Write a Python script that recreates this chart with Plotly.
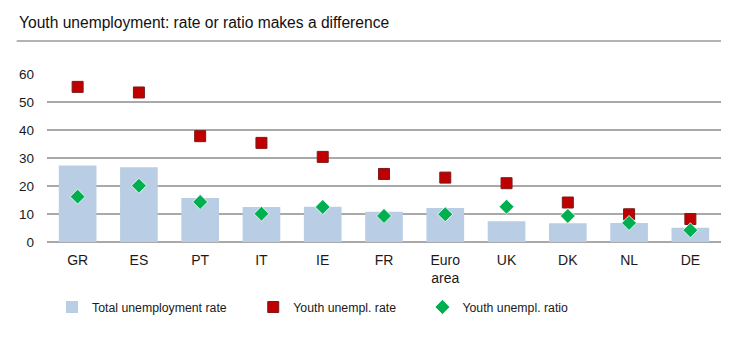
import plotly.graph_objects as go

# Country codes along the x axis
countries = ["GR", "ES", "PT", "IT", "IE", "FR", "Euro<br>area", "UK", "DK", "NL", "DE"]

# Unemployment figures, %
total_rate = [27.3, 26.7, 15.7, 12.5, 12.6, 10.8, 12.1, 7.4, 6.7, 6.8, 5.1]
youth_rate = [55.4, 53.4, 37.8, 35.4, 30.4, 24.3, 23.0, 21.0, 14.1, 9.9, 8.2]
youth_ratio = [16.2, 20.1, 14.3, 10.1, 12.5, 9.3, 9.9, 12.6, 9.3, 6.8, 4.2]

y_ticks = [0, 10, 20, 30, 40, 50, 60]

FONT = "Liberation Sans, Arial, sans-serif"
TXT = "#1a1a1a"

fig = go.Figure()
fig.add_trace(go.Bar(
    x=countries, y=total_rate, name="Total unemployment rate",
    marker=dict(color="#b9cde5", line=dict(width=0)),
    legend="legend",
))
fig.add_trace(go.Scatter(
    x=countries, y=youth_rate, name="Youth unempl. rate", mode="markers",
    marker=dict(symbol="square", size=11, color="#c00000",
                line=dict(color="#7a1a1a", width=1)),
    legend="legend2",
))
fig.add_trace(go.Scatter(
    x=countries, y=youth_ratio, name="Youth unempl. ratio", mode="markers",
    marker=dict(symbol="diamond", size=11.5, color="#00b050",
                line=dict(color="#ffffff", width=0.8)),
    legend="legend3",
))

legend_common = dict(
    orientation="h", yanchor="middle", y=-0.387, xanchor="left",
    font=dict(family=FONT, size=12.3, color=TXT),
    bgcolor="rgba(0,0,0,0)", itemwidth=30,
)

# Heading rule sits 33 px above the plot area (plot height is 168 px)
rule_y = 1 + 33 / 168

fig.update_layout(
    width=754, height=342,
    margin=dict(l=47, r=33, t=74, b=100, autoexpand=False),
    paper_bgcolor="white", plot_bgcolor="white",
    font=dict(family=FONT, size=13, color=TXT),
    bargap=0.385,
    showlegend=True,
    legend=dict(x=0.0074, **legend_common),
    legend2=dict(x=0.306, **legend_common),
    legend3=dict(x=0.557, **legend_common),
    xaxis=dict(
        range=[-0.5, len(countries) - 0.5],
        showgrid=False, showline=False, ticks="", automargin=False,
        ticklabelstandoff=8,
        tickfont=dict(family=FONT, size=14, color=TXT),
        fixedrange=True,
    ),
    yaxis=dict(
        range=[0, 60], tickvals=y_ticks, ticktext=[str(v) for v in y_ticks],
        showgrid=True, gridcolor="#a9a9a9", gridwidth=1.5,
        zeroline=True, zerolinecolor="#a9a9a9", zerolinewidth=1.5,
        showline=False, ticks="", ticklabelstandoff=12, automargin=False,
        tickfont=dict(family=FONT, size=13.5, color=TXT),
        fixedrange=True,
    ),
    annotations=[dict(
        text="Youth unemployment: rate or ratio makes a difference",
        xref="paper", yref="paper", x=-0.045, y=1.0, yshift=52,
        xanchor="left", yanchor="middle", showarrow=False,
        font=dict(family=FONT, size=15.6, color="#111111"),
    )],
    shapes=[dict(
        type="line", xref="paper", yref="paper",
        x0=-0.045, x1=1.0, y0=rule_y, y1=rule_y,
        line=dict(color="#9a9a9a", width=1.5),
    )],
)

fig.write_html("out.html")
